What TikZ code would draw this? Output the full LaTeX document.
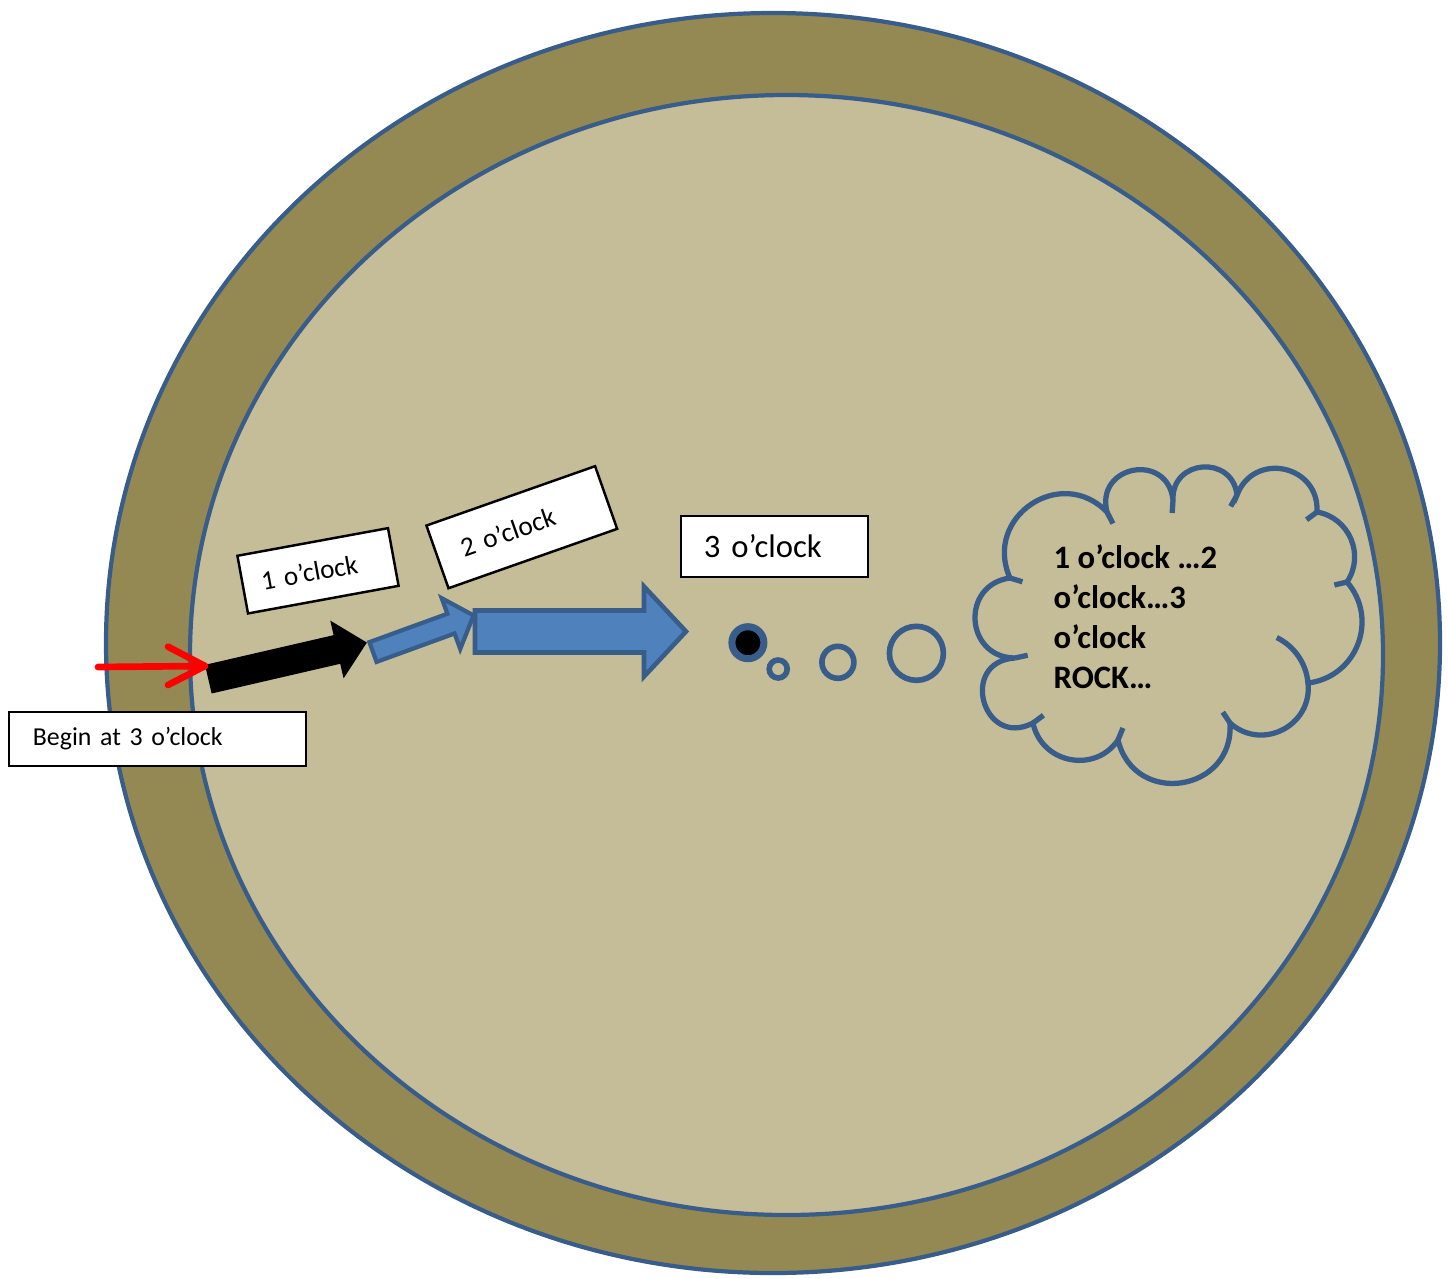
\documentclass[tikz,border=0pt]{standalone}
\usepackage{fontspec}
\setmainfont{Carlito}
\usetikzlibrary{calc}
\definecolor{rimolive}{RGB}{148,137,82}
\definecolor{platesand}{RGB}{196,189,151}
\definecolor{edgeblue}{RGB}{56,93,138}
\definecolor{arrowblue}{RGB}{79,129,189}
% block arrow: [style](tail)(angle:length:shaft half:head half:head length)
\def\blockarrow[#1](#2)(#3:#4:#5:#6:#7){\draw[#1, shift={(#2)}, rotate=#3] (0,-#5) -- ({#4-#7},-#5) -- ({#4-#7},-#6) -- (#4,0) -- ({#4-#7},#6) -- ({#4-#7},#5) -- (0,#5) -- cycle;}
\tikzset{
  labelbox/.style={draw=black, fill=white, line width=0.7pt, inner ysep=0pt, align=left},
  bubble/.style={draw=edgeblue, line width=1.6pt},
  puff/.style 2 args={bend left=#1, looseness=#2}
}

\begin{document}
\begin{tikzpicture}[x=0.01cm, y=-0.01cm]
		%%%%% START %%%%%
		\useasboundingbox (0,0) rectangle (1448,1278);
		
		\draw[line width=1.2pt, draw=edgeblue, fill=rimolive] (773,643) ellipse (667 and 630);
		\draw[line width=1.2pt, draw=edgeblue, fill=platesand] (786.5,655) ellipse (596.5 and 560);
		
		\blockarrow[fill=black, draw=black, line width=0.4pt](209,679)(13:161:14:28:29)
		\blockarrow[fill=arrowblue, draw=edgeblue, line width=1.2pt](373,652)(20:107:10.5:27:24)
		\blockarrow[fill=arrowblue, draw=edgeblue, line width=1.3pt](475,631.5)(0:211:21:45:42)
		
		\coordinate (redstart) at (98,667);
		\coordinate (blacktail) at (205,666);
		\draw[red, line width=1.9pt, line cap=round] (redstart) -- (blacktail);
		\draw[red, line width=1.9pt, line cap=round, line join=round] (168,646.7) -- (blacktail) -- (168,685);
		
		\node[labelbox, minimum width=2.97cm, minimum height=0.54cm, inner xsep=0.24cm, text width=2.49cm, font=\fontsize{7.35}{9}\selectfont] (begin) at (157.5,739) {Begin at 3 o’clock};
		\node[labelbox, rotate=10.4, minimum width=1.53cm, minimum height=0.586cm, inner xsep=0.19cm, text width=1.15cm, font=\fontsize{7.7}{9.2}\selectfont] (one) at (318,570.8) {1 o’clock};
		\node[labelbox, rotate=19.4, minimum width=1.787cm, minimum height=0.664cm, inner xsep=0.25cm, text width=1.287cm, font=\fontsize{7.8}{9.4}\selectfont] (two) at (521.8,527.2) {2 o’clock};
		\node[labelbox, minimum width=1.87cm, minimum height=0.61cm, inner xsep=0.23cm, text width=1.41cm, font=\fontsize{9.3}{11}\selectfont] (three) at (774.5,546.5) {3 o’clock};
		
		\draw[bubble, fill=black, line width=2pt] (747.9,642.7) circle (16);
		\draw[bubble] (778.2,669) circle (9);
		\draw[bubble] (837.9,662.3) circle (16);
		\draw[bubble] (916.4,653.3) circle (27);
		
		% thought cloud
		\coordinate (cloudmid) at (1165,625);
		\coordinate (v1) at (1010,578);
		\coordinate (v2) at (1107,512);
		\coordinate (v3) at (1173,500);
		\coordinate (v4) at (1237,495);
		\coordinate (v5) at (1317,512);
		\coordinate (v6) at (1347,582);
		\coordinate (v7) at (1308,683);
		\coordinate (v8) at (1230,723);
		\coordinate (v9) at (1118,740);
		\coordinate (v10) at (1033,723);
		\coordinate (v11) at (1015,658);
		\draw[edgeblue, line width=1.5pt] (v1) to[puff={80}{1.45}] (v2) to[puff={94}{1.85}] (v3) to[puff={88}{1.63}] (v4)
			to[puff={81}{1.48}] (v5) to[puff={57}{1.10}] (v6) to[puff={62}{1.16}] (v7) to[puff={69}{1.25}] (v8)
			to[puff={85}{1.57}] (v9) to[puff={67}{1.22}] (v10) to[puff={102}{2.15}] (v11) to[puff={86}{1.60}] (v1) -- cycle;
		\draw[edgeblue, line width=1.5pt] (v7) arc[start angle=-5, end angle=-64, radius=56];
		\draw[edgeblue, line width=1.5pt] (v1) -- ($(v1)!0.13cm!(cloudmid)$) (v2) -- ($(v2)!0.13cm!(cloudmid)$)
			(v3) -- ($(v3)!0.13cm!(cloudmid)$) (v4) -- ($(v4)!0.13cm!(cloudmid)$) (v5) -- ($(v5)!0.13cm!(cloudmid)$)
			(v6) -- ($(v6)!0.13cm!(cloudmid)$) (v8) -- ($(v8)!0.13cm!(cloudmid)$) (v9) -- ($(v9)!0.13cm!(cloudmid)$)
			(v10) -- ($(v10)!0.13cm!(cloudmid)$) (v11) -- ($(v11)!0.13cm!(cloudmid)$);
		\node[anchor=west, align=left, inner sep=0pt, font=\bfseries\fontsize{9.3}{11.4}\selectfont] (thoughttext) at (1053,617) {1 o’clock …2\\o’clock…3\\o’clock\\ROCK…};
		
		%%%%% END %%%%%
	\end{tikzpicture}
\end{document}
